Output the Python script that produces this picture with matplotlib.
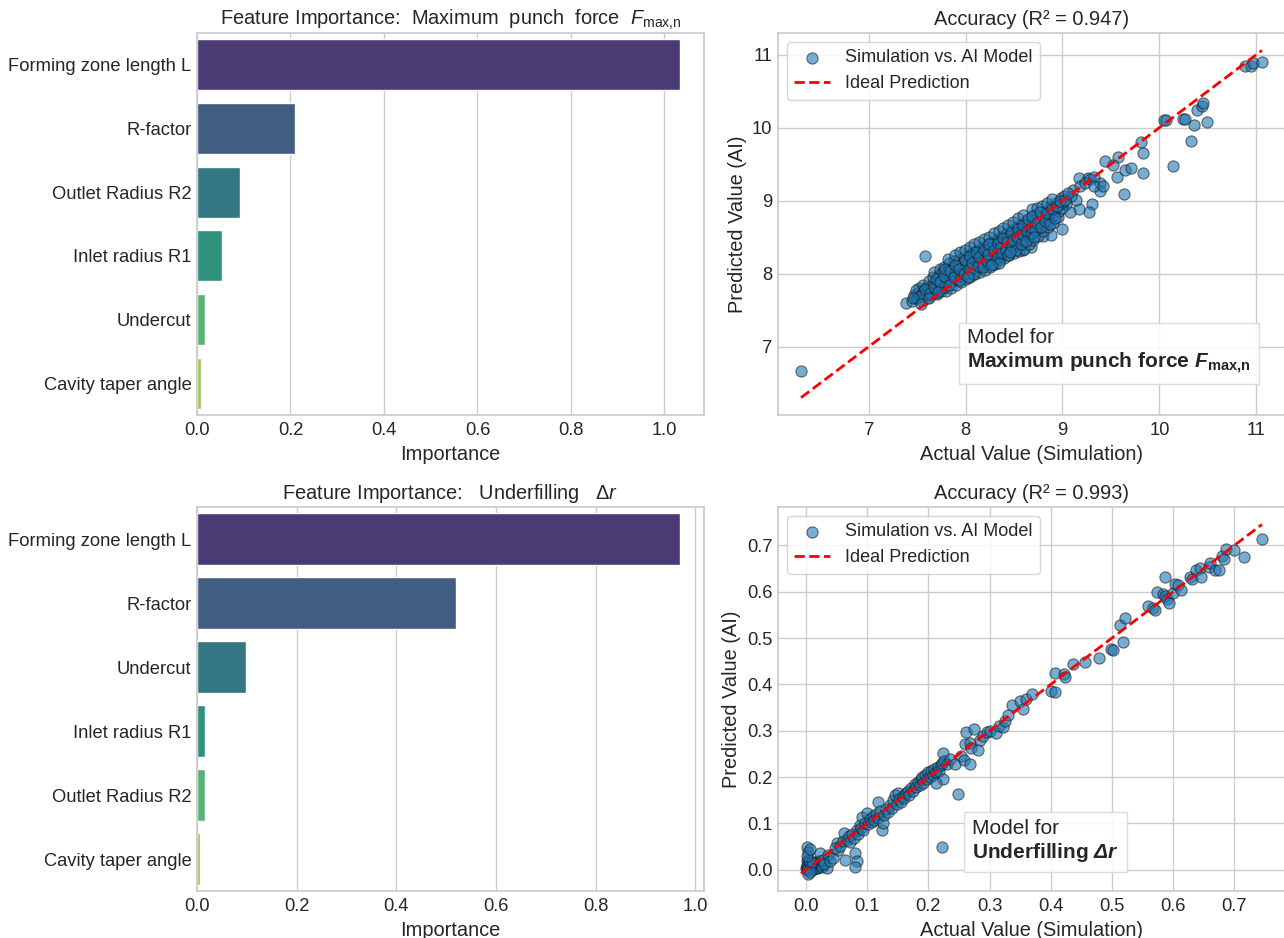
import matplotlib.pyplot as plt
import numpy as np
import seaborn as sns

# feature importances for the two targets
features_fmax = ["Forming zone length L", "R-factor", "Outlet Radius R2",
                 "Inlet radius R1", "Undercut", "Cavity taper angle"]
importance_fmax = [1.033, 0.209, 0.092, 0.053, 0.017, 0.009]

features_dr = ["Forming zone length L", "R-factor", "Undercut",
               "Inlet radius R1", "Outlet Radius R2", "Cavity taper angle"]
importance_dr = [0.969, 0.520, 0.099, 0.017, 0.016, 0.0065]

r2_fmax = 0.947
r2_dr = 0.993

# test set: (simulation, model) for the punch force
fmax_points = [
    (6.30, 6.66), (7.38, 7.60), (7.48, 7.67), (7.58, 8.24), (9.00, 8.61),
    (9.64, 9.09), (9.83, 9.38), (9.83, 9.65), (9.81, 9.80), (10.14, 9.48),
    (10.33, 9.82), (10.36, 10.04), (10.49, 10.08), (10.39, 10.24), (10.44, 10.30),
    (10.45, 10.34), (10.24, 10.12), (10.27, 10.12), (10.05, 10.10), (10.07, 10.11),
    (10.88, 10.85), (10.95, 10.85), (10.97, 10.89), (11.06, 10.90), (9.56, 9.33),
    (9.57, 9.60), (9.65, 9.42), (9.71, 9.45), (9.44, 9.55), (9.52, 9.49),
    (9.39, 9.24), (9.39, 9.13), (9.30, 8.95), (9.27, 8.84), (9.17, 9.31),
    (9.26, 9.31), (9.17, 8.88), (9.08, 8.85), (8.80, 8.51), (8.88, 8.53),
    (8.67, 8.36), (8.59, 8.33), (9.11, 9.15), (9.18, 9.20), (9.23, 9.24),
    (9.28, 9.30), (9.33, 9.33), (9.14, 9.01), (9.04, 8.95), (9.09, 9.06),
    (9.33, 9.20), (9.42, 9.20),
    (7.45, 7.62), (7.47, 7.70),
    (7.50, 7.66), (7.51, 7.74), (7.52, 7.80), (7.49, 7.78),
    (7.55, 7.63), (7.55, 7.72), (7.56, 7.84), (7.57, 7.77),
    (7.60, 7.66), (7.60, 7.75), (7.61, 7.82), (7.62, 7.90), (7.59, 7.70),
    (7.64, 7.70), (7.65, 7.78), (7.66, 7.86), (7.66, 7.95), (7.67, 8.02), (7.68, 7.74),
    (7.70, 7.72), (7.70, 7.82), (7.71, 7.90), (7.72, 7.98), (7.73, 8.06), (7.72, 7.78),
    (7.75, 7.76), (7.75, 7.85), (7.76, 7.93), (7.77, 8.02), (7.78, 8.09), (7.76, 7.80),
    (7.80, 7.76), (7.80, 7.88), (7.81, 7.96), (7.82, 8.05), (7.83, 8.14), (7.79, 7.82),
    (7.85, 7.80), (7.85, 7.90), (7.86, 7.99), (7.87, 8.08), (7.88, 8.17), (7.82, 8.20),
    (7.90, 7.84), (7.90, 7.93), (7.91, 8.02), (7.92, 8.11), (7.93, 8.20), (7.89, 8.26),
    (7.95, 7.88), (7.95, 7.97), (7.96, 8.05), (7.97, 8.14), (7.98, 8.23), (7.94, 8.30),
    (8.00, 7.92), (8.00, 8.01), (8.01, 8.09), (8.02, 8.17), (8.03, 8.26), (7.99, 8.33), (8.01, 8.12),
    (8.05, 7.96), (8.05, 8.04), (8.06, 8.12), (8.07, 8.21), (8.08, 8.30), (8.04, 8.36), (8.06, 8.08),
    (8.10, 7.99), (8.10, 8.08), (8.11, 8.16), (8.12, 8.25), (8.13, 8.33), (8.09, 8.40), (8.12, 8.20),
    (8.15, 8.02), (8.15, 8.11), (8.16, 8.20), (8.17, 8.28), (8.18, 8.37), (8.14, 8.44), (8.16, 8.15),
    (8.20, 8.05), (8.20, 8.14), (8.21, 8.23), (8.22, 8.31), (8.23, 8.40), (8.19, 8.47), (8.21, 8.19),
    (8.25, 8.09), (8.25, 8.18), (8.26, 8.27), (8.27, 8.35), (8.28, 8.44), (8.24, 8.50), (8.26, 8.22),
    (8.30, 8.13), (8.30, 8.21), (8.31, 8.30), (8.32, 8.39), (8.33, 8.47), (8.29, 8.55), (8.31, 8.26),
    (8.35, 8.18), (8.35, 8.26), (8.36, 8.34), (8.37, 8.43), (8.38, 8.51), (8.34, 8.58), (8.36, 8.30),
    (8.40, 8.22), (8.40, 8.30), (8.41, 8.38), (8.42, 8.47), (8.43, 8.56), (8.39, 8.62),
    (8.45, 8.25), (8.45, 8.34), (8.46, 8.42), (8.47, 8.51), (8.48, 8.60), (8.44, 8.66),
    (8.50, 8.28), (8.50, 8.38), (8.51, 8.46), (8.52, 8.55), (8.53, 8.64), (8.49, 8.71),
    (8.55, 8.31), (8.55, 8.42), (8.56, 8.50), (8.57, 8.59), (8.58, 8.68), (8.54, 8.76),
    (8.60, 8.34), (8.60, 8.46), (8.61, 8.55), (8.62, 8.63), (8.63, 8.72), (8.59, 8.80),
    (8.65, 8.40), (8.65, 8.52), (8.66, 8.60), (8.67, 8.68), (8.68, 8.77),
    (8.70, 8.46), (8.70, 8.56), (8.71, 8.64), (8.72, 8.73), (8.73, 8.82), (8.69, 8.88),
    (8.75, 8.52), (8.76, 8.62), (8.77, 8.70), (8.78, 8.80), (8.74, 8.90),
    (8.80, 8.58), (8.81, 8.68), (8.82, 8.76), (8.83, 8.86), (8.79, 8.93),
    (8.85, 8.64), (8.86, 8.74), (8.87, 8.82), (8.88, 8.92), (8.84, 8.97),
    (8.90, 8.70), (8.91, 8.80), (8.92, 8.88), (8.93, 8.97), (8.89, 9.02),
    (8.95, 8.78), (8.96, 8.86), (8.97, 8.95), (8.98, 9.04),
    (9.00, 8.90), (9.01, 8.98), (9.02, 9.06),
    (7.53, 7.69), (7.58, 7.79), (7.63, 7.73), (7.67, 7.81), (7.69, 7.93),
    (7.74, 7.89), (7.78, 7.97), (7.79, 8.07), (7.83, 7.84), (7.84, 8.03),
    (7.88, 7.95), (7.89, 8.12), (7.93, 8.07), (7.94, 7.91), (7.98, 8.00),
    (7.99, 8.18), (8.03, 8.06), (8.04, 8.24), (8.07, 8.15), (8.08, 7.99),
    (8.11, 8.29), (8.13, 8.11), (8.14, 8.23), (8.18, 8.09), (8.19, 8.32),
    (8.22, 8.17), (8.23, 8.27), (8.24, 8.41), (8.28, 8.13), (8.29, 8.33),
    (8.32, 8.22), (8.33, 8.42), (8.34, 8.15), (8.37, 8.37), (8.38, 8.28),
    (8.39, 8.49), (8.42, 8.33), (8.43, 8.43), (8.44, 8.26), (8.47, 8.55),
    (8.48, 8.38), (8.49, 8.46), (8.52, 8.33), (8.53, 8.50), (8.54, 8.61),
    (8.57, 8.40), (8.58, 8.54), (8.59, 8.66), (8.62, 8.45), (8.63, 8.58),
    (8.64, 8.75), (8.67, 8.55), (8.68, 8.63), (8.69, 8.79), (8.72, 8.60),
    (8.74, 8.69), (8.77, 8.85), (8.78, 8.64), (8.82, 8.72), (8.84, 8.83),
    (8.87, 8.68), (8.89, 8.88), (8.92, 8.76), (8.94, 8.92), (8.97, 9.00),
    (9.03, 9.01), (9.06, 9.10), (7.46, 7.66), (7.54, 7.59), (7.62, 7.67),
    (7.71, 7.75), (8.02, 7.95), (8.26, 8.12), (8.46, 8.30), (8.71, 8.50),
]

# test set: (simulation, model) for the underfilling
dr_points = [
    (0.000, 0.003), (0.002, 0.006), (0.004, 0.001), (0.005, 0.009), (0.007, 0.004),
    (0.008, 0.012), (0.010, 0.006), (0.011, 0.002), (0.012, 0.010), (0.014, 0.005),
    (0.015, 0.013), (0.003, 0.012), (0.001, 0.008), (0.006, 0.015), (0.009, 0.000),
    (0.013, 0.001), (0.016, 0.008), (0.018, 0.003), (0.020, 0.011), (0.002, 0.018),
    (0.004, 0.022), (0.001, -0.001), (0.006, 0.002), (0.017, 0.016), (0.022, 0.006),
    (0.019, 0.019), (0.003, 0.005), (0.008, 0.007), (0.012, 0.014), (0.005, 0.019),
    (0.016, 0.004), (0.021, 0.014), (0.025, 0.010), (0.010, 0.017), (0.024, 0.020),
    (0.027, 0.007), (0.003, -0.008), (0.007, -0.004),
    (0.001, 0.050), (0.004, 0.039), (0.002, 0.030), (0.007, 0.044), (0.023, 0.036),
    (0.028, 0.021), (0.036, 0.032), (0.034, 0.004), (0.030, 0.012), (0.040, 0.020),
    (0.045, 0.025), (0.050, 0.058), (0.053, 0.043), (0.048, 0.047), (0.056, 0.052),
    (0.060, 0.062), (0.062, 0.080), (0.064, 0.021), (0.067, 0.065), (0.070, 0.072),
    (0.072, 0.060), (0.075, 0.078), (0.078, 0.068), (0.080, 0.037), (0.083, 0.018),
    (0.080, 0.007), (0.083, 0.086), (0.085, 0.078), (0.088, 0.097), (0.090, 0.090),
    (0.091, 0.115), (0.094, 0.085), (0.097, 0.100), (0.099, 0.122), (0.102, 0.098),
    (0.104, 0.110), (0.108, 0.104), (0.110, 0.116), (0.112, 0.108), (0.115, 0.120),
    (0.118, 0.147), (0.118, 0.112), (0.121, 0.126), (0.124, 0.086), (0.126, 0.100),
    (0.128, 0.118), (0.131, 0.131), (0.134, 0.125), (0.137, 0.140), (0.140, 0.134),
    (0.143, 0.150), (0.146, 0.162), (0.148, 0.142), (0.150, 0.166), (0.152, 0.152),
    (0.155, 0.146), (0.158, 0.160), (0.160, 0.154), (0.163, 0.166), (0.166, 0.170),
    (0.168, 0.162), (0.172, 0.176), (0.175, 0.171), (0.178, 0.185), (0.180, 0.178),
    (0.183, 0.190), (0.186, 0.182), (0.188, 0.196), (0.190, 0.200), (0.192, 0.188),
    (0.195, 0.205), (0.198, 0.196), (0.200, 0.210), (0.202, 0.200), (0.205, 0.214),
    (0.208, 0.205), (0.210, 0.218), (0.212, 0.210), (0.215, 0.222), (0.218, 0.214),
    (0.220, 0.226), (0.222, 0.230), (0.224, 0.251), (0.224, 0.195), (0.213, 0.188),
    (0.226, 0.235), (0.230, 0.228), (0.235, 0.240), (0.243, 0.228), (0.249, 0.163),
    (0.223, 0.049), (0.253, 0.245), (0.258, 0.237), (0.268, 0.228), (0.260, 0.271),
    (0.268, 0.273), (0.270, 0.262), (0.281, 0.258), (0.284, 0.281), (0.262, 0.298),
    (0.275, 0.303), (0.290, 0.288), (0.295, 0.298), (0.300, 0.300), (0.311, 0.296),
    (0.315, 0.310), (0.322, 0.309), (0.325, 0.322), (0.330, 0.334), (0.336, 0.355),
    (0.350, 0.365), (0.355, 0.348), (0.359, 0.368), (0.369, 0.380), (0.401, 0.386),
    (0.407, 0.384), (0.407, 0.424), (0.421, 0.422), (0.423, 0.416), (0.436, 0.444),
    (0.456, 0.449), (0.479, 0.458), (0.499, 0.477), (0.501, 0.475), (0.513, 0.528),
    (0.518, 0.492), (0.521, 0.544), (0.559, 0.569), (0.567, 0.564), (0.570, 0.560),
    (0.574, 0.599), (0.584, 0.596), (0.586, 0.590), (0.590, 0.585), (0.593, 0.576),
    (0.586, 0.632), (0.600, 0.597), (0.603, 0.616), (0.608, 0.614), (0.613, 0.603),
    (0.628, 0.632), (0.631, 0.628), (0.638, 0.646), (0.643, 0.650), (0.645, 0.632),
    (0.659, 0.653), (0.660, 0.662), (0.668, 0.646), (0.675, 0.646), (0.680, 0.678),
    (0.683, 0.671), (0.687, 0.691), (0.700, 0.689), (0.715, 0.675), (0.745, 0.713),
]

sns.set_theme(style="whitegrid", font_scale=1.2)
plt.rcParams["font.family"] = ["Liberation Sans", "DejaVu Sans"]
plt.rcParams["mathtext.fontset"] = "custom"
plt.rcParams["mathtext.rm"] = "Liberation Sans"
plt.rcParams["mathtext.it"] = "Liberation Sans:italic"
plt.rcParams["mathtext.bf"] = "Liberation Sans:bold"
plt.rcParams["mathtext.bfit"] = "Liberation Sans:bold:italic"
plt.rcParams["xtick.major.size"] = 0
plt.rcParams["ytick.major.size"] = 0
plt.rcParams["xtick.major.pad"] = 5
plt.rcParams["ytick.major.pad"] = 4
plt.rcParams["axes.labelpad"] = 4

W, H = 1284, 938
fig = plt.figure(figsize=(W / 100, H / 100), dpi=100)


def px_axes(left, top, width, height):
    return fig.add_axes([left / W, 1 - (top + height) / H, width / W, height / H])


ax_bar1 = px_axes(197, 33, 507, 382)
ax_sc1 = px_axes(778, 33, 507, 382)
ax_bar2 = px_axes(197, 507, 507, 384)
ax_sc2 = px_axes(778, 507, 507, 384)


def importance_panel(ax, names, values, title):
    sns.barplot(x=values, y=names, hue=names, palette="viridis", legend=False, ax=ax)
    ax.set_title(title)
    ax.set_xlabel("Importance")
    ax.set_ylabel("")


def accuracy_panel(ax, points, r2, label, box_xy):
    actual, pred = np.array(points).T
    ax.scatter(actual, pred, s=65, alpha=0.6, color="#1f77b4", edgecolor="k",
               linewidth=0.8, label="Simulation vs. AI Model")
    lo = min(actual.min(), pred.min())
    hi = max(actual.max(), pred.max())
    ax.plot([lo, hi], [lo, hi], color="red", ls="--", lw=2, label="Ideal Prediction")
    ax.set_title(f"Accuracy (R\u00b2 = {r2})")
    ax.set_xlabel("Actual Value (Simulation)")
    ax.set_ylabel("Predicted Value (AI)")
    ax.legend(loc="upper left", fontsize=13)
    ax.text(box_xy[0], box_xy[1], "Model for\n" + label, transform=ax.transAxes,
            fontsize=15, ha="left", va="bottom",
            bbox=dict(boxstyle="square,pad=0.4", facecolor="white",
                      edgecolor="0.85", alpha=0.9))


importance_panel(ax_bar1, features_fmax, importance_fmax,
                 r"Feature Importance:  Maximum  punch  force  $F_{\mathrm{max{,}n}}$")
importance_panel(ax_bar2, features_dr, importance_dr,
                 r"Feature Importance:   Underfilling   $\mathit{\Delta r}$")

accuracy_panel(ax_sc1, fmax_points, r2_fmax,
               r"$\mathbf{Maximum\ punch\ force}\ \mathbfit{F}_{\mathbf{max{,}n}}$",
               (0.373, 0.103))
accuracy_panel(ax_sc2, dr_points, r2_dr,
               r"$\mathbf{Underfilling}\ \mathbfit{\Delta r}$",
               (0.383, 0.07))

fig.savefig("out.png", dpi=100)
